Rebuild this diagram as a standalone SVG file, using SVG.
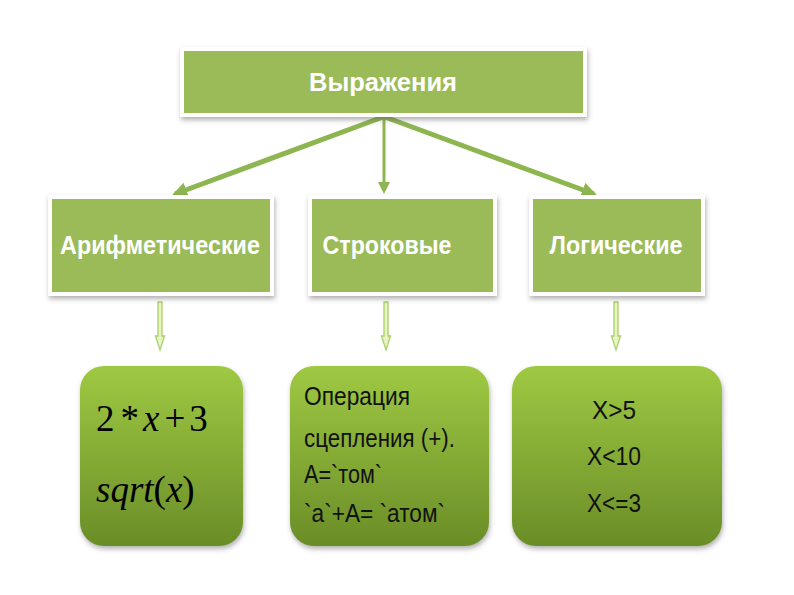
<svg xmlns="http://www.w3.org/2000/svg" width="794" height="595" viewBox="0 0 794 595">
<defs>
<linearGradient id="g" x1="0" y1="0" x2="0" y2="1">
<stop offset="0" stop-color="#9fc943"/>
<stop offset="1" stop-color="#6a8d27"/>
</linearGradient>
<filter id="sh" x="-10%" y="-10%" width="125%" height="130%">
<feDropShadow dx="1" dy="3" stdDeviation="2.5" flood-color="#555" flood-opacity="0.45"/>
</filter>
<marker id="ah" viewBox="0 0 10 10" refX="8" refY="5" markerWidth="3" markerHeight="3" orient="auto" markerUnits="strokeWidth">
<path d="M0,0 L10,5 L0,10 z" fill="#8db550"/>
</marker>
</defs>
<style>
.frame{fill:#fff;filter:url(#sh)}
.box{fill:#9bbb59}
.hd{font-family:"Liberation Sans",Arial,sans-serif;font-weight:bold;fill:#fff;font-size:26px;text-anchor:middle}
.rb{fill:url(#g);filter:url(#sh)}
.narrow{font-family:"Liberation Sans",Arial,sans-serif;fill:#111;font-size:25px}
.math{font-family:"Liberation Serif","Times New Roman",serif;fill:#000;font-size:37px}
.conn{stroke:#8db550;stroke-width:5;fill:none;marker-end:url(#ah)}
.hol{fill:#e9f3c4;stroke:#a9cf6a;stroke-width:1.3}
</style>
<rect width="794" height="595" fill="#fff"/>
<g id="connectors">
<line class="conn" x1="383" y1="117" x2="175" y2="194"/>
<line x1="384" y1="117" x2="384" y2="184" stroke="#8db550" stroke-width="3"/>
<path d="M378,182 L390,182 L384,194 z" fill="#8db550"/>
<line class="conn" x1="385" y1="117" x2="594" y2="194"/>
<path class="hol" d="M158,302 L162,302 L162,336 L164.5,336 L160,350 L155.5,336 L158,336 z"/>
<path class="hol" d="M384,302 L388,302 L388,336 L390.5,336 L386,350 L381.5,336 L384,336 z"/>
<path class="hol" d="M614,302 L618,302 L618,336 L620.5,336 L616,350 L611.5,336 L614,336 z"/>
</g>
<g id="n-root">
<rect class="frame" x="180" y="47" width="407" height="70"/>
<rect class="box" x="184" y="51" width="399" height="62"/>
<text class="hd" x="383" y="91" textLength="148" lengthAdjust="spacingAndGlyphs">Выражения</text>
</g>
<g id="n-arith">
<rect class="frame" x="48" y="195" width="226" height="101"/>
<rect class="box" x="52" y="199" width="218" height="93"/>
<text class="hd" x="160" y="254" textLength="200" lengthAdjust="spacingAndGlyphs">Арифметические</text>
</g>
<g id="n-str">
<rect class="frame" x="308" y="195" width="189" height="101"/>
<rect class="box" x="312" y="199" width="181" height="93"/>
<text class="hd" x="387" y="254" textLength="129" lengthAdjust="spacingAndGlyphs">Строковые</text>
</g>
<g id="n-log">
<rect class="frame" x="529" y="195" width="176" height="101"/>
<rect class="box" x="533" y="199" width="168" height="93"/>
<text class="hd" x="616" y="254" textLength="133" lengthAdjust="spacingAndGlyphs">Логические</text>
</g>
<g id="n-arith-ex">
<rect class="rb" x="80" y="366" width="163" height="180" rx="24"/>
<text class="math" x="96" y="431">2<tspan dx="6">*</tspan><tspan dx="4" font-style="italic">x</tspan><tspan dx="5">+</tspan><tspan dx="4">3</tspan></text>
<text class="math" x="96" y="502" font-style="italic">sqrt<tspan font-style="normal">(</tspan>x<tspan font-style="normal">)</tspan></text>
</g>
<g id="n-str-ex">
<rect class="rb" x="290" y="366" width="199" height="180" rx="24"/>
<text class="narrow" x="304" y="405" textLength="106" lengthAdjust="spacingAndGlyphs">Операция</text>
<text class="narrow" x="304" y="447" textLength="151" lengthAdjust="spacingAndGlyphs">сцепления (+).</text>
<text class="narrow" x="304" y="483" textLength="78" lengthAdjust="spacingAndGlyphs">А=`том`</text>
<text class="narrow" x="304" y="522" textLength="141" lengthAdjust="spacingAndGlyphs">`а`+А= `атом`</text>
</g>
<g id="n-log-ex">
<rect class="rb" x="512" y="366" width="210" height="180" rx="24"/>
<text class="narrow" x="614" y="419" text-anchor="middle" textLength="44" lengthAdjust="spacingAndGlyphs">X&gt;5</text>
<text class="narrow" x="614" y="465" text-anchor="middle" textLength="54" lengthAdjust="spacingAndGlyphs">X&lt;10</text>
<text class="narrow" x="614" y="512" text-anchor="middle" textLength="54" lengthAdjust="spacingAndGlyphs">X&lt;=3</text>
</g>
</svg>
